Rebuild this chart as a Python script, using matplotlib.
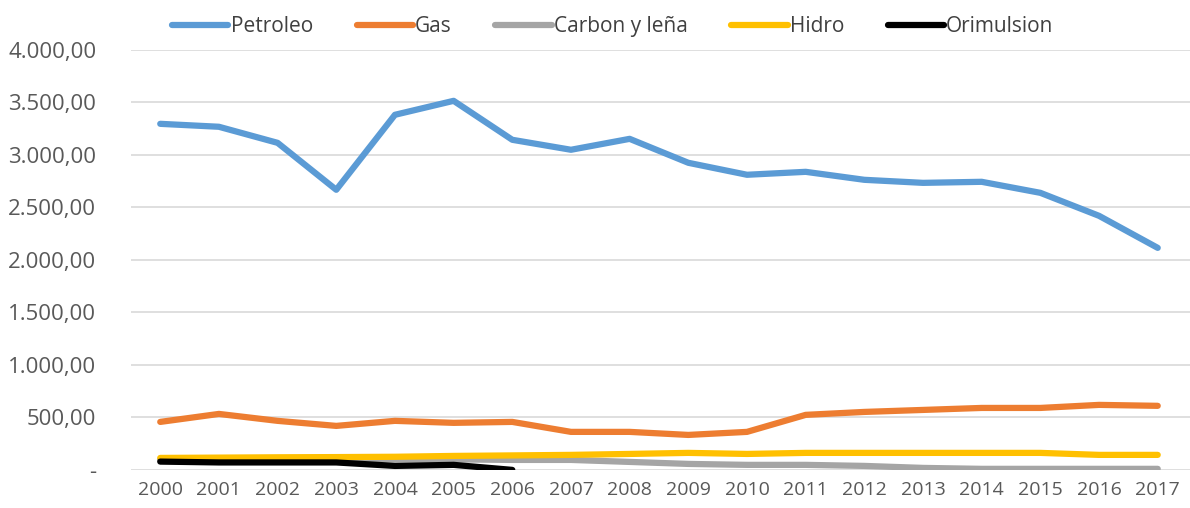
import numpy as np
import matplotlib.pyplot as plt
from matplotlib.ticker import FuncFormatter

years = list(range(2000, 2018))
petroleo = [3295, 3267, 3114, 2667, 3381, 3514, 3143, 3048, 3152, 2924, 2810, 2838, 2762, 2733, 2743, 2638, 2419, 2114]
gas = [457, 533, 467, 419, 467, 448, 457, 362, 362, 333, 362, 524, 552, 571, 590, 590, 619, 610]
carbon = [100, 100, 100, 100, 100, 100, 95, 95, 76, 57, 48, 48, 38, 19, 10, 10, 10, 10]
hidro = [114, 117, 120, 122, 125, 133, 138, 143, 152, 162, 152, 162, 162, 162, 162, 162, 143, 143]
orim_years = list(range(2000, 2007))
orimulsion = [79, 71, 71, 71, 38, 48, 0]

series = [
    ("Petroleo", years, petroleo, "#5b9bd5"),
    ("Gas", years, gas, "#ed7d31"),
    ("Carbon y leña", years, carbon, "#a5a5a5"),
    ("Hidro", years, hidro, "#ffc000"),
    ("Orimulsion", orim_years, orimulsion, "#000000"),
]

plt.rcParams['font.family'] = ['Open Sans', 'DejaVu Sans']

fig = plt.figure(figsize=(11.9, 5.08), dpi=100)
ax = fig.add_axes([0.11, 0.075, 0.89, 0.827])

for name, xs, ys, col in series:
    ax.plot(xs, ys, color=col, lw=4.5, label=name, solid_capstyle='round')

ax.set_xlim(1999.5, 2017.55)
ax.set_ylim(0, 4000)
ax.set_yticks(np.arange(0, 4001, 500))
ax.set_xticks(years)


def fmt(v, pos):
    if v == 0:
        return "-"
    s = f"{v:,.2f}"
    return s.replace(",", "X").replace(".", ",").replace("X", ".")


ax.yaxis.set_major_formatter(FuncFormatter(fmt))
ax.grid(axis='y', color='#d9d9d9', lw=1.2)
ax.set_axisbelow(True)
for sp in ax.spines.values():
    sp.set_visible(False)
ax.tick_params(length=0, labelsize=14, colors='#595959', pad=8)
ax.tick_params(axis='y', pad=25)
for lab in ax.get_yticklabels():
    lab.set_fontsize(16)

leg = fig.legend(loc='upper center', bbox_to_anchor=(0.515, 1.005), ncol=5, frameon=False,
                 fontsize=15, handlelength=2.7, handletextpad=0.1, columnspacing=2.1)
for t in leg.get_texts():
    t.set_color('#404040')

fig.savefig('out.png')
